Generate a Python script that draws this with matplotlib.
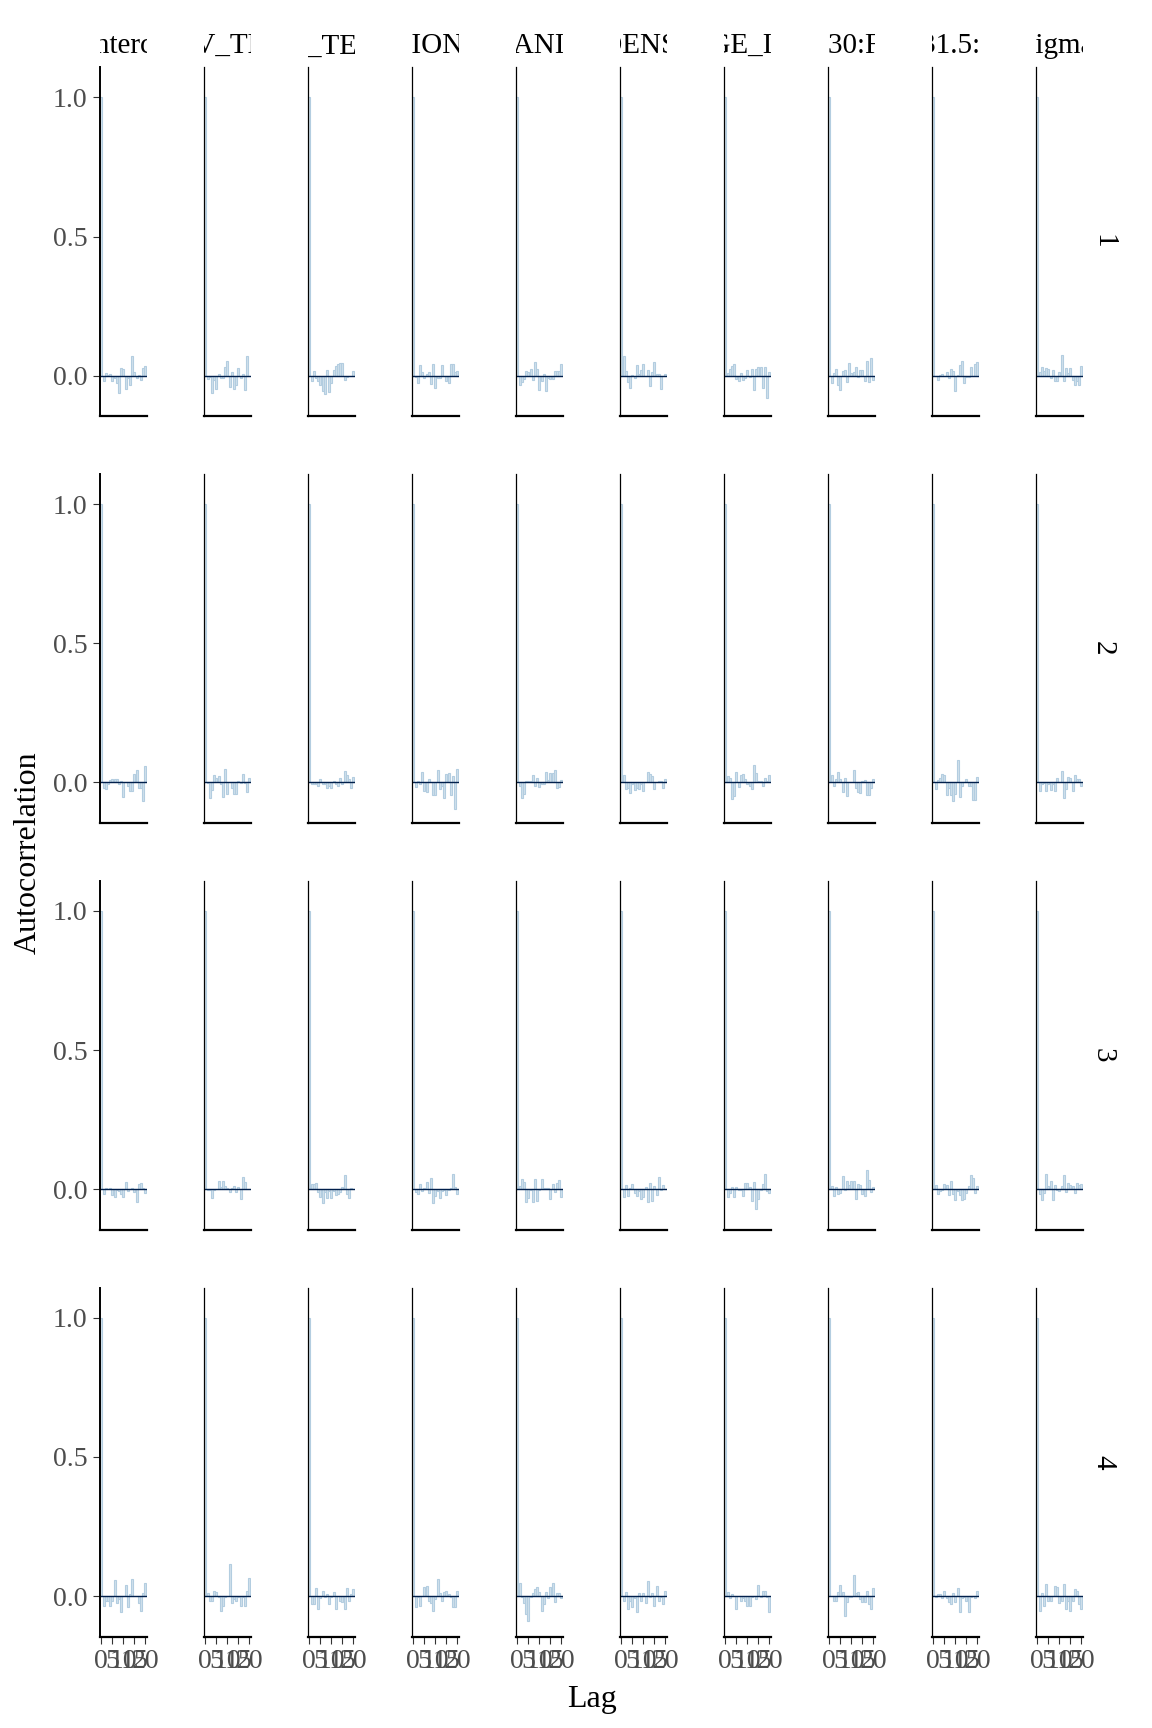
import matplotlib
matplotlib.use('Agg')
import matplotlib.pyplot as plt
from matplotlib.transforms import Bbox, TransformedBbox

plt.rcParams['font.family'] = ['Liberation Serif', 'DejaVu Serif']

params = ['b_Intercept', 'b_PREV_THREAT', 'b_MAX_TEMP_SQ', 'b_REGION_RISK', 'b_ORGANIC_TOT',
          'b_MED_DENSITY_IDX', 'b_LARGE_IMPACT', 'b_AGE30:FARMS', 'b_BMI31.5:LEVEL', 'sigma']
chains = ['1', '2', '3', '4']
lags = list(range(21))

# autocorrelation at lags 1..20 (lag 0 is always 1)
acf_chain1 = [
    [-0.019, 0.01, 0.003, 0.006, -0.019, -0.01, -0.028, -0.064, 0.029, 0.025, -0.049, -0.01, -0.034, 0.069, 0.014, -0.007, 0.003, -0.017, 0.029, 0.036],
    [-0.012, -0.004, -0.064, -0.016, -0.048, 0.006, -0.007, -0.007, 0.032, 0.053, -0.041, 0.014, -0.049, -0.034, 0.028, -0.007, 0.007, -0.052, 0.069, -0.002],
    [-0.019, 0.017, -0.007, -0.019, -0.034, -0.055, -0.067, 0.02, -0.06, -0.026, 0.02, 0.035, 0.041, 0.045, 0.047, -0.016, -0.004, -0.001, -0.001, 0.017],
    [-0.005, -0.026, 0.039, 0.013, -0.007, 0.006, 0.013, -0.03, 0.042, -0.043, -0.01, -0.007, 0.039, 0.0, -0.018, -0.026, 0.042, 0.042, 0.013, 0.017],
    [-0.034, -0.022, -0.012, 0.017, 0.014, 0.024, -0.016, 0.049, 0.024, -0.052, -0.019, 0.007, -0.055, -0.01, -0.012, -0.012, 0.017, 0.017, 0.017, 0.042],
    [0.071, 0.017, -0.024, -0.046, 0.002, -0.007, 0.039, 0.007, 0.02, 0.042, 0.0, 0.02, -0.037, 0.014, 0.049, 0.006, 0.006, -0.048, -0.002, 0.006],
    [0.01, 0.024, 0.035, 0.042, -0.012, -0.019, 0.01, -0.016, -0.007, 0.02, -0.005, 0.024, -0.052, 0.024, 0.031, 0.031, -0.045, 0.031, -0.081, 0.013],
    [-0.026, 0.01, 0.024, -0.034, -0.052, 0.017, 0.019, -0.023, 0.046, 0.01, 0.013, 0.031, -0.005, 0.02, 0.02, -0.019, 0.053, -0.023, 0.064, -0.016],
    [0.0, -0.016, 0.002, 0.007, -0.001, 0.013, -0.007, 0.024, 0.017, -0.055, 0.002, 0.039, 0.053, -0.026, -0.005, -0.005, 0.031, 0.0, 0.042, 0.049],
    [0.014, 0.031, 0.017, 0.028, 0.024, -0.007, 0.02, -0.019, -0.019, 0.013, 0.075, -0.019, 0.028, 0.01, 0.028, -0.016, -0.034, -0.019, -0.034, 0.035],
]
acf_chain2 = [
    [-0.019, -0.023, -0.007, 0.01, 0.013, 0.013, 0.013, -0.007, 0.006, -0.052, 0.002, -0.012, -0.03, -0.03, 0.031, 0.046, -0.019, -0.019, -0.066, 0.06],
    [-0.002, -0.055, -0.026, 0.028, 0.017, 0.024, -0.007, -0.052, 0.049, -0.041, 0.002, -0.019, -0.041, -0.041, 0.006, -0.001, 0.031, -0.001, -0.034, 0.017],
    [-0.007, -0.007, -0.007, -0.012, 0.013, -0.007, -0.007, -0.019, -0.012, -0.019, 0.006, -0.007, -0.012, 0.017, -0.005, 0.042, 0.028, 0.013, -0.019, 0.02],
    [-0.016, 0.006, -0.007, 0.039, -0.03, -0.034, 0.013, 0.002, -0.045, -0.045, 0.046, -0.023, -0.012, -0.055, 0.031, 0.035, -0.045, 0.024, -0.095, 0.049],
    [-0.012, -0.055, -0.041, 0.006, 0.006, 0.006, 0.028, -0.012, 0.017, -0.016, -0.005, -0.005, 0.039, 0.01, 0.035, 0.035, 0.046, -0.019, -0.016, 0.01],
    [0.028, -0.023, -0.019, -0.037, -0.007, -0.026, -0.019, -0.023, -0.007, -0.03, 0.002, 0.039, 0.031, 0.024, -0.023, 0.002, 0.006, 0.006, -0.019, 0.013],
    [0.024, 0.017, -0.059, -0.048, 0.039, -0.016, 0.028, 0.031, 0.013, -0.007, -0.012, -0.023, 0.064, 0.035, 0.006, 0.006, -0.012, 0.017, 0.006, 0.028],
    [0.028, -0.012, 0.013, 0.039, 0.013, -0.034, 0.017, -0.048, 0.002, 0.002, 0.046, -0.019, -0.034, -0.037, 0.006, 0.01, -0.045, -0.045, -0.019, 0.013],
    [-0.023, 0.01, 0.017, 0.031, 0.028, -0.045, -0.019, -0.045, -0.066, -0.041, 0.082, -0.052, -0.012, 0.002, 0.013, -0.012, -0.012, -0.063, -0.063, 0.02],
    [-0.03, -0.005, -0.001, -0.03, -0.005, -0.026, -0.005, -0.03, 0.017, 0.0, 0.042, -0.055, -0.023, 0.02, 0.017, -0.03, 0.028, 0.013, 0.013, -0.012],
]
acf_chain3 = [
    [-0.018, 0.004, 0.0, 0.004, -0.022, -0.029, -0.004, -0.007, -0.018, -0.029, 0.025, -0.007, 0.0, 0.004, -0.011, -0.047, 0.018, 0.022, 0.004, -0.014],
    [-0.004, -0.003, -0.032, -0.004, 0.0, 0.029, 0.007, 0.029, 0.011, 0.004, -0.011, 0.004, 0.011, -0.011, 0.007, -0.036, 0.043, 0.025, 0.001, 0.001],
    [0.018, 0.018, 0.022, -0.011, -0.029, -0.05, -0.011, -0.032, -0.007, -0.032, -0.007, -0.022, -0.018, -0.011, 0.007, 0.05, -0.018, -0.032, 0.004, 0.0],
    [-0.011, -0.018, 0.018, -0.007, 0.004, 0.025, -0.014, 0.04, -0.05, -0.025, -0.007, -0.032, -0.007, -0.004, -0.022, -0.004, 0.004, 0.054, 0.007, -0.018],
    [0.011, 0.036, 0.025, -0.047, -0.032, -0.004, -0.047, 0.036, -0.043, -0.004, 0.036, 0.004, 0.004, 0.004, -0.036, 0.018, -0.011, 0.022, 0.032, -0.029],
    [-0.029, 0.014, -0.025, 0.004, 0.018, -0.014, -0.025, -0.007, -0.036, -0.029, 0.007, -0.047, 0.022, -0.043, 0.011, -0.022, 0.043, -0.004, 0.014, 0.0],
    [-0.029, -0.014, 0.007, -0.029, 0.007, -0.004, -0.004, -0.025, 0.022, 0.022, 0.007, -0.043, 0.025, -0.072, -0.036, -0.004, 0.018, 0.054, -0.007, -0.014],
    [0.011, -0.025, 0.007, -0.018, -0.014, 0.047, -0.004, 0.029, 0.014, 0.029, 0.029, -0.036, 0.018, 0.014, -0.018, -0.025, 0.069, 0.032, -0.011, 0.007],
    [0.014, -0.018, -0.007, -0.004, 0.018, 0.014, -0.022, 0.029, -0.018, -0.04, -0.007, -0.022, -0.04, -0.036, -0.014, 0.011, 0.05, 0.04, -0.014, 0.011],
    [-0.018, -0.04, -0.014, 0.054, 0.011, 0.029, -0.04, 0.014, -0.004, -0.007, 0.011, 0.05, -0.011, 0.022, 0.014, 0.011, -0.014, 0.022, 0.014, 0.018],
]
acf_chain4 = [
    [-0.034, -0.019, -0.016, -0.037, -0.019, 0.057, -0.026, -0.012, -0.059, 0.002, 0.039, -0.041, 0.006, 0.06, -0.001, -0.001, -0.026, -0.055, 0.01, 0.046],
    [0.01, -0.019, -0.016, 0.02, 0.013, -0.002, -0.055, -0.034, -0.005, 0.002, 0.114, -0.026, -0.012, -0.019, -0.005, -0.037, -0.005, -0.034, 0.017, 0.064],
    [-0.03, -0.03, 0.028, -0.048, -0.008, 0.017, -0.005, 0.006, -0.03, -0.005, 0.013, -0.048, 0.0, -0.019, -0.023, -0.048, 0.028, -0.019, 0.006, 0.024],
    [-0.041, -0.005, -0.034, 0.0, 0.031, 0.035, -0.019, -0.026, -0.052, -0.012, 0.06, 0.01, -0.016, 0.013, 0.02, 0.006, -0.005, -0.041, -0.041, 0.02],
    [0.046, -0.005, -0.026, -0.063, -0.088, -0.005, 0.01, 0.024, 0.031, 0.013, -0.055, -0.03, 0.013, -0.008, 0.031, 0.046, -0.023, 0.01, 0.01, -0.008],
    [-0.019, 0.013, -0.045, -0.019, -0.041, -0.008, -0.059, 0.01, -0.019, 0.01, -0.026, 0.053, -0.005, 0.01, -0.034, 0.035, -0.016, -0.005, -0.03, 0.017],
    [0.013, -0.008, 0.006, 0.0, -0.048, 0.0, -0.019, -0.008, -0.019, -0.037, -0.037, -0.003, 0.0, -0.012, 0.039, -0.003, 0.02, 0.02, -0.003, -0.059],
    [0.0, -0.019, -0.019, 0.013, 0.039, 0.013, -0.07, -0.023, -0.005, -0.003, 0.075, 0.01, 0.013, -0.012, -0.023, -0.023, 0.02, -0.03, -0.048, 0.028],
    [-0.005, 0.006, 0.006, -0.008, 0.02, -0.008, -0.023, -0.03, 0.01, -0.023, 0.028, -0.059, -0.008, -0.005, -0.019, -0.059, -0.005, 0.0, -0.008, 0.02],
    [-0.052, 0.01, -0.034, 0.042, -0.016, -0.019, 0.0, 0.035, 0.031, -0.026, -0.016, 0.042, -0.045, -0.019, -0.052, -0.019, 0.024, 0.017, -0.03, -0.048],
]
all_chains = [acf_chain1, acf_chain2, acf_chain3, acf_chain4]

W, H = 1152, 1728
fig = plt.figure(figsize=(W / 100, H / 100), dpi=100)

left0, col_step, pw = 100, 104, 46.7
top0, row_step, ph = 67.3, 406.8, 349

for r, chain in enumerate(all_chains):
    for c, vals in enumerate(chain):
        x0 = left0 + c * col_step
        y0 = top0 + r * row_step
        ax = fig.add_axes([x0 / W, 1 - (y0 + ph) / H, pw / W, ph / H])
        ax.bar(lags, [1.0] + vals, width=0.9, color='#d1e1ec', edgecolor='#b3cde0', linewidth=0.8)
        ax.axhline(0, color='#011f4b', lw=1.0)
        ax.set_xlim(-0.6, 20.6)
        ax.set_ylim(-0.146, 1.108)
        for s in ['top', 'right']:
            ax.spines[s].set_visible(False)
        ax.spines['left'].set_linewidth(1.4 if c == 0 else 0.9)
        ax.spines['bottom'].set_linewidth(1.6)
        ax.tick_params(length=5, width=0.8, color='#333333', labelcolor='#4d4d4d', labelsize=20)
        ax.tick_params(axis='y', pad=4)
        ax.tick_params(axis='x', pad=4)
        if c == 0:
            ax.set_yticks([0, 0.5, 1.0])
            ax.set_yticklabels(['0.0', '0.5', '1.0'])
        else:
            ax.set_yticks([])
        if r == 3:
            ax.set_xticks([0, 5, 10, 15, 20])
            ax.set_xticklabels(['0', '5', '10', '15', '20'])
        else:
            ax.set_xticks([])

        if r == 0:
            t = fig.text((x0 + pw / 2) / W, 1 - 46 / H, params[c], ha='center', va='center', fontsize=21)
            clip = TransformedBbox(Bbox([[x0 / W, 0], [(x0 + pw) / W, 1]]), fig.transFigure)
            t.set_clip_box(clip)
            t.set_clip_on(True)

    fig.text(1103 / W, 1 - (top0 + r * row_step + ph / 2) / H, chains[r], rotation=270,
             ha='center', va='center', fontsize=21)

fig.text(28.7 / W, 1 - 853 / H, 'Autocorrelation', rotation=90, ha='center', va='center', fontsize=23)
fig.text(592 / W, 1 - 1699 / H, 'Lag', ha='center', va='center', fontsize=23)

fig.savefig('out.png', dpi=100)
